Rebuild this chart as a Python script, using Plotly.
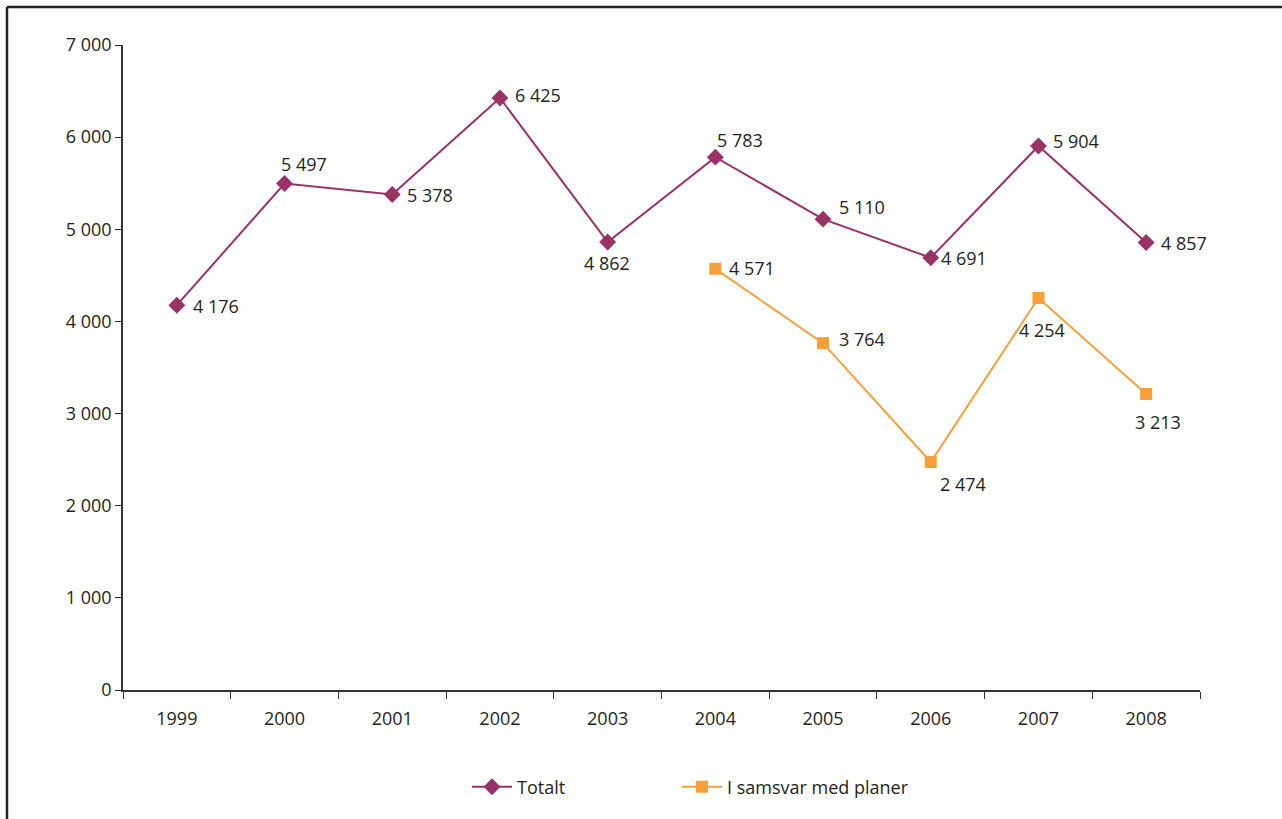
import plotly.graph_objects as go

years = ["1999", "2000", "2001", "2002", "2003", "2004", "2005", "2006", "2007", "2008"]
totalt = [4176, 5497, 5378, 6425, 4862, 5783, 5110, 4691, 5904, 4857]
samsvar_years = ["2004", "2005", "2006", "2007", "2008"]
samsvar = [4571, 3764, 2474, 4254, 3213]

y_ticks = [0, 1000, 2000, 3000, 4000, 5000, 6000, 7000]

# label offsets in pixels (dx right, dy up) relative to each point
tot_off = [(39, -1), (19, 19), (38, -1), (38, 3), (-1, -21),
           (25, 17), (39, 12), (33, 0), (38, 5), (38, -1)]
sam_off = [(37, 1), (39, 4), (32, -22), (4, -32), (12, -28)]

def fmt(v):
    return f"{v:,}".replace(",", " ")

PURPLE = "#993366"
ORANGE = "#F7A03A"
FONT = "Open Sans"
TXT = "#231f20"

fig = go.Figure()
fig.add_trace(go.Scatter(
    x=years, y=totalt, name="Totalt", mode="lines+markers",
    line=dict(color=PURPLE, width=2),
    marker=dict(symbol="diamond", size=13, color=PURPLE),
    legend="legend",
))
fig.add_trace(go.Scatter(
    x=samsvar_years, y=samsvar, name="I samsvar med planer", mode="lines+markers",
    line=dict(color=ORANGE, width=2),
    marker=dict(symbol="square", size=12, color=ORANGE),
    legend="legend2",
))

for xs, ys, offs in [(years, totalt, tot_off), (samsvar_years, samsvar, sam_off)]:
    for x, y, (dx, dy) in zip(xs, ys, offs):
        fig.add_annotation(x=years.index(x), y=y, text=fmt(y), showarrow=False,
                           xanchor="center", yanchor="middle",
                           xshift=dx, yshift=dy,
                           font=dict(family=FONT, size=18, color=TXT))

leg_common = dict(orientation="h", xanchor="left", y=-(787 - 690) / 645, yanchor="middle",
                  font=dict(family=FONT, size=18, color=TXT), itemwidth=40,
                  bgcolor="rgba(0,0,0,0)")

fig.update_layout(
    width=1282, height=819,
    margin=dict(l=123, r=82, t=45, b=129),
    paper_bgcolor="white", plot_bgcolor="white",
    font=dict(family=FONT, size=18, color=TXT),
    separators=", ",
    showlegend=True,
    legend=dict(x=(467 - 123) / 1077, **leg_common),
    legend2=dict(x=(677 - 123) / 1077, **leg_common),
    xaxis=dict(type="category", categoryorder="array", categoryarray=years,
               range=[-0.5, 9.5], showline=True, linecolor="#333333", linewidth=1.5,
               ticks="outside", tickson="boundaries", ticklen=7, tickcolor="#333333",
               ticklabelstandoff=12,
               showgrid=False, zeroline=False, tickfont=dict(size=18)),
    yaxis=dict(range=[0, 7000], tickvals=y_ticks, tickformat=",d",
               showline=True, linecolor="#333333", linewidth=1.5,
               ticks="outside", ticklen=6, tickcolor="#333333",
               showgrid=False, zeroline=False, tickfont=dict(size=18)),
)

fig.add_shape(type="line", xref="paper", yref="paper",
              x0=(7 - 123) / 1077, x1=1.2, y0=(690 - 7) / 645, y1=(690 - 7) / 645,
              line=dict(color="#222222", width=2.5))
fig.add_shape(type="line", xref="paper", yref="paper",
              x0=(7 - 123) / 1077, x1=(7 - 123) / 1077, y0=(690 - 7) / 645, y1=-0.3,
              line=dict(color="#222222", width=2.5))

fig.write_html("out.html", config={"displayModeBar": False},
               post_script="document.body.style.margin='0';document.body.style.overflow='hidden';")
